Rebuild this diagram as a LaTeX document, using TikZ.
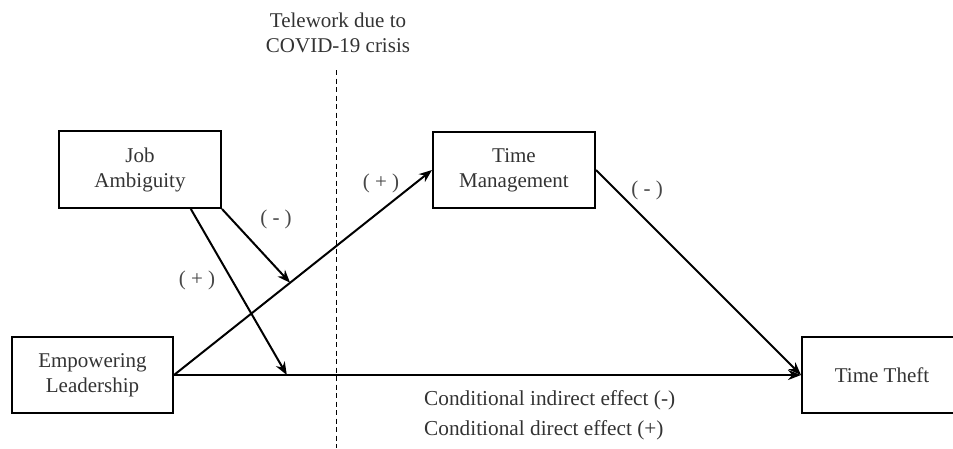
\documentclass[tikz,border=0pt]{standalone}
\usepackage{fontspec}
\setmainfont{Liberation Serif}
\usetikzlibrary{arrows.meta,calc}
\begin{document}
\begin{tikzpicture}[x=1pt,y=-1pt,
  box/.style={draw=black,line width=2pt,minimum width=162pt,minimum height=76pt,inner sep=0pt,align=center,text=black!80,font=\fontsize{21}{25}\selectfont},
  lbl/.style={text=black!72,font=\fontsize{21}{24}\selectfont,inner sep=0pt},
  arr/.style={line width=2pt,-{Stealth[length=13pt,width=10pt]}}]
\useasboundingbox (0,0) rectangle (953,448);
\clip (0,0) rectangle (953,448);
\node[lbl,align=center,text=black!80,font=\fontsize{21}{25}\selectfont] (tw) at (338,33) {Telework due to\\COVID-19 crisis};
\coordinate (dtop) at (336,70);
\coordinate (dbot) at (336,448);
\draw[line width=0.9pt,dash pattern=on 5pt off 3.5pt] (dtop) -- (dbot);
\node[box,minimum width=161pt] (el) at (92.5,375) {Empowering\\Leadership};
\node[box,minimum height=77pt] (ja) at (140,169.5) {Job\\Ambiguity};
\node[box] (tm) at (514,170) {Time\\Management};
\node[box,minimum width=180pt] (tt) at (892,375) {\hspace*{-20pt}Time Theft};
\draw[arr] (el.east) -- (tm.west);
\draw[arr] (el.east) -- (tt.west);
\draw[arr] (tm.east) -- (tt.west);
\coordinate (m1) at ($(el.east)!0.45!(tm.west)$);
\coordinate (m2) at ($(el.east)!0.18!(tt.west)$);
\coordinate (js) at ($(ja.south west)!0.81!(ja.south east)$);
\draw[arr] (ja.south east) -- (m1);
\draw[arr] (js) -- (m2);
\node[lbl] (l1) at (276,219) {( - )};
\node[lbl] (l2) at (197,280) {( + )};
\node[lbl] (l3) at (381,183) {( + )};
\node[lbl] (l4) at (647,190) {( - )};
\node[lbl,anchor=west,align=left,text=black!80,font=\fontsize{21.3}{30}\selectfont] (ce) at (424,415) {Conditional indirect effect (-)\\Conditional direct effect (+)};
\end{tikzpicture}
\end{document}
